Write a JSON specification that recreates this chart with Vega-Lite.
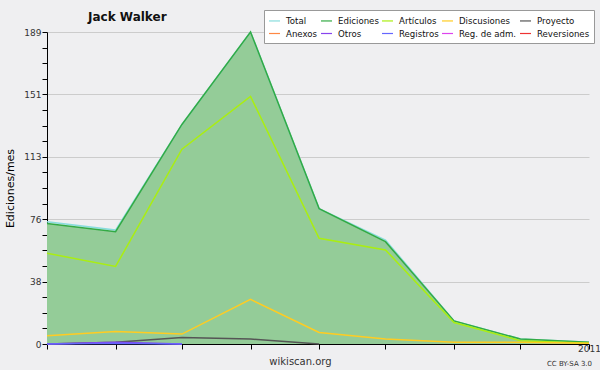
{
  "$schema": "https://vega.github.io/schema/vega-lite/v6.json",
  "width": 542,
  "height": 312,
  "autosize": {"type": "none"},
  "padding": {"left": 47, "top": 32, "right": 11, "bottom": 26},
  "background": "#efeff1",
  "title": {"text": "Jack Walker", "anchor": "start", "frame": "group", "dx": 41, "offset": -14, "font": "DejaVu Sans", "fontSize": 12, "fontWeight": "bold", "color": "#111"},
  "config": {
    "view": {"stroke": null},
    "axis": {"labelFont": "DejaVu Sans", "titleFont": "DejaVu Sans", "labelColor": "#333", "labelFontSize": 9, "domainColor": "#000", "tickColor": "#000", "tickSize": 5},
    "legend": {"labelFont": "DejaVu Sans"}
  },
  "data": {"values": [
    {"date": "2010/05/01", "serie": "Total", "value": 74},
    {"date": "2010/06/01", "serie": "Total", "value": 69},
    {"date": "2010/07/01", "serie": "Total", "value": 133},
    {"date": "2010/08/01", "serie": "Total", "value": 189},
    {"date": "2010/09/01", "serie": "Total", "value": 82},
    {"date": "2010/10/01", "serie": "Total", "value": 63},
    {"date": "2010/11/01", "serie": "Total", "value": 14},
    {"date": "2010/12/01", "serie": "Total", "value": 3},
    {"date": "2011/01/01", "serie": "Total", "value": 1},
    {"date": "2010/05/01", "serie": "Ediciones", "value": 73},
    {"date": "2010/06/01", "serie": "Ediciones", "value": 68},
    {"date": "2010/07/01", "serie": "Ediciones", "value": 133},
    {"date": "2010/08/01", "serie": "Ediciones", "value": 189},
    {"date": "2010/09/01", "serie": "Ediciones", "value": 82},
    {"date": "2010/10/01", "serie": "Ediciones", "value": 62},
    {"date": "2010/11/01", "serie": "Ediciones", "value": 14},
    {"date": "2010/12/01", "serie": "Ediciones", "value": 3},
    {"date": "2011/01/01", "serie": "Ediciones", "value": 1},
    {"date": "2010/05/01", "serie": "Artículos", "value": 55},
    {"date": "2010/06/01", "serie": "Artículos", "value": 47},
    {"date": "2010/07/01", "serie": "Artículos", "value": 118},
    {"date": "2010/08/01", "serie": "Artículos", "value": 150},
    {"date": "2010/09/01", "serie": "Artículos", "value": 64},
    {"date": "2010/10/01", "serie": "Artículos", "value": 57},
    {"date": "2010/11/01", "serie": "Artículos", "value": 13},
    {"date": "2010/12/01", "serie": "Artículos", "value": 2},
    {"date": "2011/01/01", "serie": "Artículos", "value": 0.5},
    {"date": "2010/05/01", "serie": "Discusiones", "value": 5},
    {"date": "2010/06/01", "serie": "Discusiones", "value": 7.5},
    {"date": "2010/07/01", "serie": "Discusiones", "value": 6},
    {"date": "2010/08/01", "serie": "Discusiones", "value": 27},
    {"date": "2010/09/01", "serie": "Discusiones", "value": 7},
    {"date": "2010/10/01", "serie": "Discusiones", "value": 3},
    {"date": "2010/11/01", "serie": "Discusiones", "value": 1},
    {"date": "2010/12/01", "serie": "Discusiones", "value": 1},
    {"date": "2011/01/01", "serie": "Discusiones", "value": 0.5},
    {"date": "2010/05/01", "serie": "Proyecto", "value": 0},
    {"date": "2010/06/01", "serie": "Proyecto", "value": 1},
    {"date": "2010/07/01", "serie": "Proyecto", "value": 4},
    {"date": "2010/08/01", "serie": "Proyecto", "value": 3},
    {"date": "2010/09/01", "serie": "Proyecto", "value": 0},
    {"date": "2010/05/01", "serie": "Otros", "value": 0},
    {"date": "2010/06/01", "serie": "Otros", "value": 1},
    {"date": "2010/07/01", "serie": "Otros", "value": 0},
    {"date": "2010/05/01", "serie": "Registros", "value": 0},
    {"date": "2010/06/01", "serie": "Registros", "value": 0.5},
    {"date": "2010/07/01", "serie": "Registros", "value": 0}
  ]},
  "encoding": {
    "x": {
      "field": "date", "type": "temporal",
      "scale": {"domain": [{"year": 2010, "month": 5, "date": 1}, {"year": 2011, "month": 1, "date": 1}]},
      "axis": {
        "values": [
          {"year": 2010, "month": 5, "date": 1}, {"year": 2010, "month": 6, "date": 1}, {"year": 2010, "month": 7, "date": 1},
          {"year": 2010, "month": 8, "date": 1}, {"year": 2010, "month": 9, "date": 1}, {"year": 2010, "month": 10, "date": 1},
          {"year": 2010, "month": 11, "date": 1}, {"year": 2010, "month": 12, "date": 1}, {"year": 2011, "month": 1, "date": 1}
        ],
        "labelExpr": "month(datum.value) == 0 ? timeFormat(datum.value, '%Y') : ''",
        "labelFontSize": 9,
        "labelDx": -1,
        "labelPadding": -5,
        "labelFlush": false,
        "grid": false,
        "title": "wikiscan.org",
        "titleFontSize": 10,
        "titleFontWeight": "normal",
        "titleColor": "#333",
        "titleX": 253,
        "titleY": 20,
        "titleBaseline": "alphabetic",
        "titleAnchor": null
      }
    },
    "y": {
      "field": "value", "type": "quantitative",
      "scale": {"domain": [0, 189], "nice": false}
    }
  },
  "layer": [
    {
      "transform": [{"filter": "datum.serie == 'Ediciones'"}],
      "mark": {"type": "area", "color": "#94cc98", "opacity": 1},
      "encoding": {
        "y": {
          "field": "value", "type": "quantitative",
          "scale": {"domain": [0, 189], "nice": false},
          "axis": {
            "values": [0, 9.45, 18.9, 28.35, 37.8, 47.25, 56.7, 66.15, 75.6, 85.05, 94.5, 103.95, 113.4, 122.85, 132.3, 141.75, 151.2, 160.65, 170.1, 179.55, 189],
            "labelExpr": "abs(datum.value/37.8 - round(datum.value/37.8)) < 0.001 ? format(datum.value, '.0f') : ''",
            "grid": true,
            "gridColor": "#cccccc",
            "gridOpacity": {"condition": {"test": "abs(datum.value/37.8 - round(datum.value/37.8)) < 0.001 && datum.value > 0", "value": 1}, "value": 0},
            "labelPadding": 1,
            "title": "Ediciones/mes",
            "titleFontSize": 11,
            "titleFontWeight": "normal",
            "titleColor": "#000",
            "titleX": -37,
            "titleY": 156,
            "titleAngle": -90,
            "titleAlign": "center",
            "titleBaseline": "middle"
          }
        }
      }
    },
    {
      "mark": {"type": "line", "strokeWidth": 1.5},
      "encoding": {
        "y": {
          "field": "value", "type": "quantitative",
          "scale": {"domain": [0, 189], "nice": false},
          "axis": {
            "orient": "right", "domain": false, "ticks": false, "labels": false, "grid": false,
            "title": "CC BY-SA 3.0", "titleAngle": 0, "titleFontSize": 7, "titleFontWeight": "normal",
            "titleColor": "#333", "titleX": -20, "titleY": 333, "titleAlign": "center", "titleBaseline": "alphabetic"
          }
        },
        "color": {
          "field": "serie", "type": "nominal",
          "scale": {
            "domain": ["Total", "Ediciones", "Artículos", "Discusiones", "Proyecto", "Anexos", "Otros", "Registros", "Reg. de adm.", "Reversiones"],
            "range": ["#88dddd", "#33aa44", "#aaee11", "#ffcc22", "#555555", "#ff8844", "#8844ee", "#6666ff", "#dd44ee", "#ee3333"]
          },
          "legend": {
            "title": null,
            "orient": "none",
            "legendX": 217,
            "legendY": -22,
            "columns": 5,
            "direction": "horizontal",
            "symbolType": "stroke",
            "symbolSize": 121,
            "symbolStrokeWidth": 1.2,
            "labelFontSize": 8.6,
            "labelColor": "#111",
            "labelOffset": 5,
            "columnPadding": 0,
            "rowPadding": 1,
            "padding": 4,
            "fillColor": "#ffffff",
            "strokeColor": "#999999"
          }
        }
      }
    }
  ],
  "resolve": {"axis": {"y": "independent"}, "scale": {"y": "shared"}}
}
